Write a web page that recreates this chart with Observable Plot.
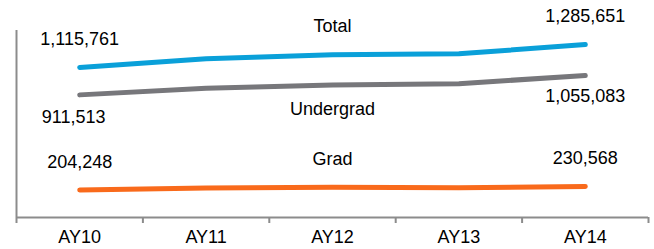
<!DOCTYPE html>
<html>
<head>
<meta charset="utf-8">
<script src="https://cdn.jsdelivr.net/npm/d3@7"></script>
<script src="https://cdn.jsdelivr.net/npm/@observablehq/plot@0.6"></script>
<style>
  html, body { margin: 0; padding: 0; background: #fff; }
  #chart svg { display: block; }
</style>
</head>
<body>
<div id="chart"></div>
<script>
const years = ["AY10", "AY11", "AY12", "AY13", "AY14"];
const total = [1115761, 1180000, 1210000, 1217000, 1285651];
const undergrad = [911513, 960000, 985000, 995000, 1055083];
const grad = [204248, 220000, 225000, 222000, 230568];
const seriesNames = ["Total", "Undergrad", "Grad"];
const seriesColors = ["#0aa0d9", "#77777b", "#f96a1b"];
const yMax = 1390000;

const seriesValues = [total, undergrad, grad];
const rows = [];
seriesNames.forEach((s, k) => {
  seriesValues[k].forEach((v, i) => rows.push({series: s, i, year: years[i], value: v}));
});

// end-point value labels (first and last year) and series-name labels (middle year)
const endLabels = rows.filter(d => d.i === 0 || d.i === years.length - 1);
const nameLabels = rows.filter(d => d.i === 2);
const above = d => d.series !== "Undergrad";

const fmt = d3.format(",");
const idx = d3.range(years.length);
const bounds = d3.range(years.length + 1).map(i => i - 0.5);

const chart = Plot.plot({
  width: 654,
  height: 249,
  marginLeft: 16,
  marginRight: 6,
  marginTop: 30,
  marginBottom: 32,
  style: {fontFamily: "'Liberation Sans', Arial, sans-serif", fontSize: "18px", color: "#000", background: "#fff"},
  x: {domain: [-0.5, years.length - 0.5], label: null},
  y: {domain: [0, yMax], axis: null},
  color: {domain: seriesNames, range: seriesColors},
  marks: [
    Plot.ruleX([-0.5], {y1: 0, y2: yMax, stroke: "#8c8c8c", strokeWidth: 2}),
    Plot.ruleY([0], {stroke: "#8c8c8c", strokeWidth: 2}),
    Plot.axisX({ticks: bounds, tickFormat: () => "", label: null, tickSize: 6, stroke: "#8c8c8c", strokeWidth: 2, strokeOpacity: 1}),
    Plot.axisX({ticks: idx, tickFormat: i => years[i], label: null, tickSize: 0, tickPadding: 13, fontSize: 18, fill: "#000"}),
    Plot.line(rows, {x: "i", y: "value", z: "series", stroke: "series", strokeWidth: 5, strokeLinecap: "round", strokeLinejoin: "round"}),
    Plot.text(endLabels.filter(above), {x: "i", y: "value", text: d => fmt(d.value), dy: -28, fill: "#000", fontSize: 18}),
    Plot.text(endLabels.filter(d => !above(d) && d.i === 0), {x: "i", y: "value", text: d => fmt(d.value), dx: -6, dy: 22, fill: "#000", fontSize: 18}),
    Plot.text(endLabels.filter(d => !above(d) && d.i !== 0), {x: "i", y: "value", text: d => fmt(d.value), dy: 21, fill: "#000", fontSize: 18}),
    Plot.text(nameLabels.filter(above), {x: "i", y: "value", text: "series", dy: -28, fill: "#000", fontSize: 18}),
    Plot.text(nameLabels.filter(d => !above(d)), {x: "i", y: "value", text: "series", dy: 24, fill: "#000", fontSize: 18})
  ]
});
document.getElementById("chart").appendChild(chart);
</script>
</body>
</html>
